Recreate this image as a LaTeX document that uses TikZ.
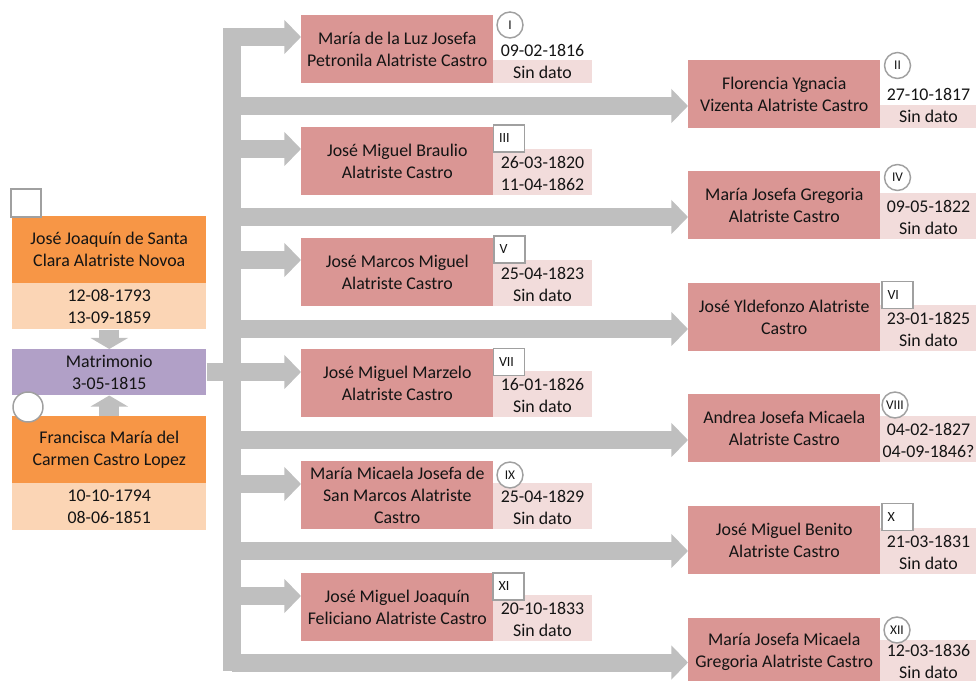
\documentclass[tikz,border=0pt]{standalone}
\usepackage{fontspec}
\setmainfont{Carlito}
\usetikzlibrary{arrows.meta}
\definecolor{parentC}{HTML}{F79646}
\definecolor{parentDateC}{HTML}{FBD5B5}
\definecolor{unionC}{HTML}{B1A0C7}
\definecolor{childC}{HTML}{DA9694}
\definecolor{childDateC}{HTML}{F2DCDB}
\definecolor{linkC}{HTML}{BFBFBF}
\definecolor{badgeC}{HTML}{A0A0A0}
\definecolor{inkC}{HTML}{141414}
\begin{document}
\begin{tikzpicture}[x=0.75pt,y=-0.75pt,
  txt/.style={font=\fontsize{13.4}{16.5}\selectfont, text=inkC, align=center},
  parentbox/.style={txt, fill=parentC, minimum width=145.5pt, minimum height=50.25pt, inner sep=0pt, anchor=north west},
  parentdate/.style={txt, fill=parentDateC, minimum width=145.5pt, minimum height=34.5pt, inner sep=0pt, anchor=north west},
  unionbox/.style={txt, fill=unionC, minimum width=145.5pt, minimum height=34.5pt, inner sep=0pt, anchor=north west},
  namebox/.style={txt, fill=childC, minimum width=144pt, minimum height=51pt, inner sep=0pt, anchor=north west},
  datebg/.style={fill=childDateC, inner sep=0pt, anchor=north west, minimum height=34.5pt},
  shortbg/.style={datebg, minimum height=17.25pt},
  leftbg/.style={minimum width=74.25pt},
  rightbg/.style={minimum width=72.75pt},
  datetxt/.style={txt, inner sep=0pt},
  sqbadge/.style={draw=badgeC, line width=1.1pt, fill=white, minimum height=20.25pt, text width=15pt, inner xsep=4.1pt, inner ysep=0pt, align=left, font=\fontsize{10.5}{11}\selectfont, text=inkC},
  cbadge/.style={circle, draw=badgeC, line width=1.1pt, fill=white, minimum size=19.5pt, inner sep=0pt, font=\fontsize{10}{11}\selectfont, text=inkC},
  bar/.style={draw=linkC, line width=13.5pt},
  branch/.style={bar, -{Triangle[length=12.5pt, width=25pt]}},
  updown/.style={draw=linkC, line width=15pt, -{Triangle[length=8.25pt, width=27.75pt]}}
]
\useasboundingbox (0,0) rectangle (976,681);

% ---- parents and marriage ----
\node[parentbox] (father) at (12,216) {José Joaquín de Santa\\Clara Alatriste Novoa};
\node[parentdate] (fdates) at (12,283) {12-08-1793\\13-09-1859};
\node[unionbox] (union) at (12,349) {Matrimonio\\3-05-1815};
\node[parentbox] (mother) at (12,416) {Francisca María del\\Carmen Castro Lopez};
\node[parentdate, minimum height=35.25pt] (mdates) at (12,483) {10-10-1794\\08-06-1851};

\draw[updown] (fdates.south) -- (union.north);
\draw[updown] (mother.north) -- (union.south);

\node[draw=badgeC, line width=1.1pt, fill=white, minimum width=22.5pt, minimum height=21pt, inner sep=0pt] (fbadge) at (26,203) {};
\node[cbadge, minimum size=22.5pt] (mbadge) at (28,407) {};

% ---- trunk ----
\coordinate (tTop) at (231.5,28);
\coordinate (tBot) at (231.5,671);
\draw[bar] (tTop) -- (tBot);
\draw[bar] (union.east) -- (union.east -| tTop);

% ---- children, left column ----
\node[namebox] (k1) at (301,15) {María de la Luz Josefa\\Petronila Alatriste Castro};
\node[shortbg, leftbg] (b1) at (493,60) {};
\node[datetxt] (d1) at (542.5,61) {09-02-1816\\Sin dato};
\node[cbadge] (g1) at (510,25) {I};

\node[namebox] (k3) at (301,127) {José Miguel Braulio\\Alatriste Castro};
\node[datebg, leftbg] (b3) at (493,149) {};
\node[datetxt] (d3) at (542.5,173) {26-03-1820\\11-04-1862};
\node[sqbadge] (g3) at (509,138.5) {III};

\node[namebox] (k5) at (301,238) {José Marcos Miguel\\Alatriste Castro};
\node[datebg, leftbg] (b5) at (493,260) {};
\node[datetxt] (d5) at (542.5,284) {25-04-1823\\Sin dato};
\node[sqbadge] (g5) at (509.5,249.5) {V};

\node[namebox] (k7) at (301,349) {José Miguel Marzelo\\Alatriste Castro};
\node[datebg, leftbg] (b7) at (493,371) {};
\node[datetxt] (d7) at (542.5,395) {16-01-1826\\Sin dato};
\node[sqbadge] (g7) at (509,362) {VII};

\node[namebox] (k9) at (301,461) {María Micaela Josefa de\\San Marcos Alatriste\\Castro};
\node[datebg, leftbg] (b9) at (493,483) {};
\node[datetxt] (d9) at (542.5,507) {25-04-1829\\Sin dato};
\node[cbadge] (g9) at (510,475) {IX};

\node[namebox] (k11) at (301,573) {José Miguel Joaquín\\Feliciano Alatriste Castro};
\node[datebg, leftbg] (b11) at (493,595) {};
\node[datetxt] (d11) at (542.5,619) {20-10-1833\\Sin dato};
\node[sqbadge] (g11) at (508.5,586.5) {XI};

% ---- children, right column ----
\node[namebox] (k2) at (688,60) {Florencia Ygnacia\\Vizenta Alatriste Castro};
\node[shortbg, rightbg] (b2) at (880,105) {};
\node[datetxt] (d2) at (928.5,105) {27-10-1817\\Sin dato};
\node[cbadge] (g2) at (897.5,65.5) {II};

\node[namebox] (k4) at (688,171) {María Josefa Gregoria\\Alatriste Castro};
\node[datebg, rightbg] (b4) at (880,193) {};
\node[datetxt] (d4) at (928.5,217) {09-05-1822\\Sin dato};
\node[cbadge] (g4) at (897.5,177.5) {IV};

\node[namebox] (k6) at (688,283) {José Yldefonzo Alatriste\\Castro};
\node[datebg, rightbg] (b6) at (880,305) {};
\node[datetxt] (d6) at (928.5,329) {23-01-1825\\Sin dato};
\node[sqbadge] (g6) at (897.5,295) {VI};

\node[namebox] (k8) at (688,394) {Andrea Josefa Micaela\\Alatriste Castro};
\node[datebg, rightbg] (b8) at (880,416) {};
\node[datetxt] (d8) at (928.5,440) {04-02-1827\\04-09-1846?};
\node[cbadge] (g8) at (895,405) {VIII};

\node[namebox] (k10) at (688,506) {José Miguel Benito\\Alatriste Castro};
\node[datebg, rightbg] (b10) at (880,528) {};
\node[datetxt] (d10) at (928.5,552) {21-03-1831\\Sin dato};
\node[sqbadge] (g10) at (897.5,517) {X};

\node[namebox] (k12) at (688,618) {María Josefa Micaela\\Gregoria Alatriste Castro};
\node[datebg, rightbg] (b12) at (880,640) {};
\node[datetxt] (d12) at (928.5,661) {12-03-1836\\Sin dato};
\node[cbadge] (g12) at (897,630) {XII};

% ---- branches from the trunk ----
\foreach \k/\y in {1/37, 3/149, 5/260, 7/372, 9/484, 11/596, 2/106, 4/217, 6/329, 8/440, 10/551, 12/662.5} {
  \coordinate (j\k) at (231.5,\y);
  \draw[branch] (j\k) -- (k\k.west |- j\k);
}
\end{tikzpicture}
\end{document}
